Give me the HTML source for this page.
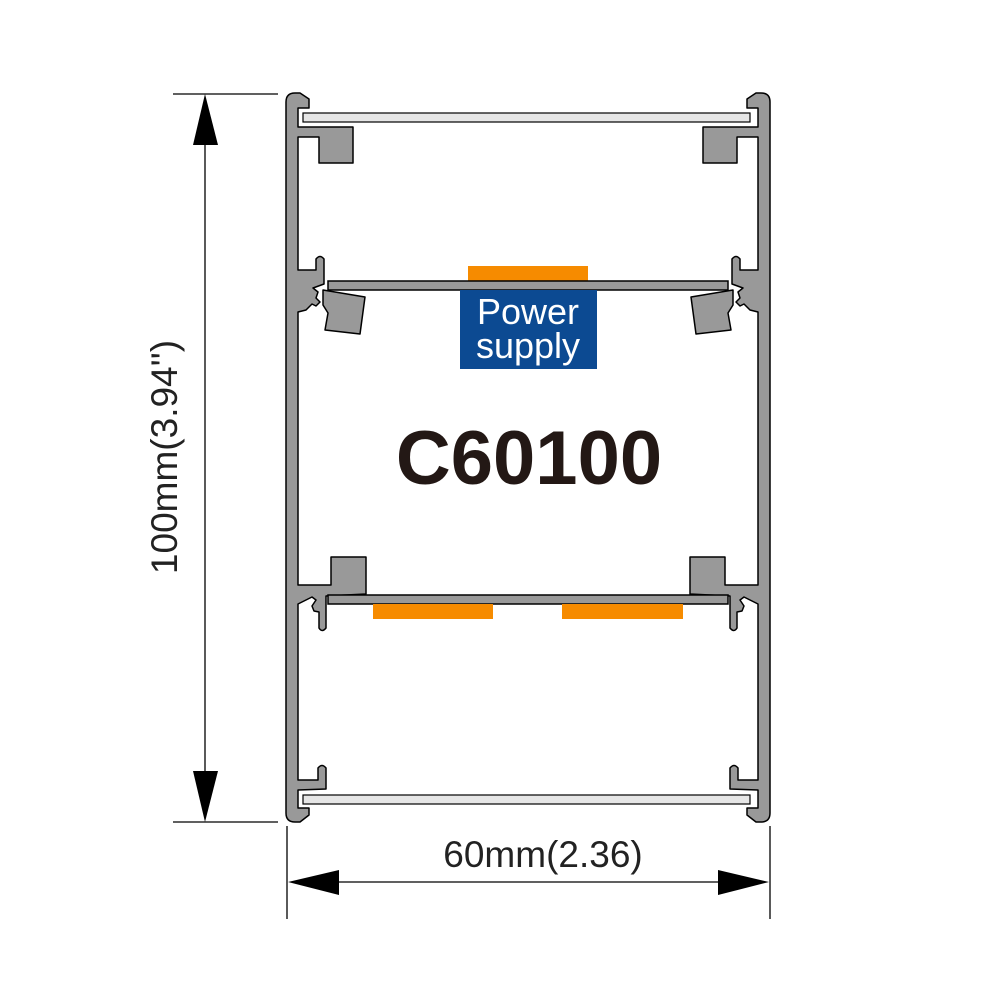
<!DOCTYPE html>
<html><head><meta charset="utf-8"><style>
html,body{margin:0;padding:0;background:#fff;width:1000px;height:1000px;overflow:hidden}
svg{display:block}
</style></head><body>
<svg width="1000" height="1000" viewBox="0 0 1000 1000" xmlns="http://www.w3.org/2000/svg">
<defs>
<g id="side" fill="#999" stroke="#000" stroke-width="1.5" stroke-linejoin="round">
  <path d="M286,102 Q286,93 295,93 L300,93 L309,99 L309,108 L298,108 L298,127 L353,127 L353,163 L319,163 L319,137 L298,137 L298,270 L316,270 L316,259 Q320,254 324,259 L324,284 L313,288 L318,292 L316,298 L320,302 L316,306 L312,304 L306,310 L298,312 L298,585 L331,585 L331,557 L366,557 L366,594 L326,596 L326,628 Q322,633 319,628 L319,612 L314,611 L312,606 L316,600 L312,597 L306,600 L298,604 L298,780 L318,780 L318,768 Q322,763 326,768 L326,789 L298,790 L298,808 L309,808 L309,815 L300,822 L295,822 Q286,822 286,813 Z"/>
  <path d="M323,290 L365,297 L360,334 L325,330 L328,313 L323,305 Z"/>
</g>
</defs>
<use href="#side"/>
<use href="#side" transform="translate(1056,0) scale(-1,1)"/>
<rect x="303" y="113" width="447" height="9" fill="#e6e6e6" stroke="#000" stroke-width="1.2"/>
<rect x="303" y="795" width="447" height="9" fill="#e6e6e6" stroke="#000" stroke-width="1.2"/>
<rect x="468" y="266" width="120" height="15" fill="#f68b00"/>
<rect x="328" y="281" width="400" height="9" fill="#999" stroke="#000" stroke-width="1.5"/>
<rect x="328" y="595" width="400" height="9" fill="#999" stroke="#000" stroke-width="1.5"/>
<rect x="373" y="604" width="120" height="15" fill="#f68b00"/>
<rect x="562" y="604" width="121" height="15" fill="#f68b00"/>
<rect x="460" y="290" width="137" height="79" fill="#0c4a92"/>
<text x="528" y="324" font-family="Liberation Sans, sans-serif" font-size="36" fill="#fff" text-anchor="middle">Power</text>
<text x="528" y="358" font-family="Liberation Sans, sans-serif" font-size="36" fill="#fff" text-anchor="middle">supply</text>
<text x="529" y="484" font-family="Liberation Sans, sans-serif" font-size="76" font-weight="bold" fill="#231815" text-anchor="middle">C60100</text>
<g stroke="#000" stroke-width="1.3">
<line x1="173" y1="94" x2="278" y2="94"/>
<line x1="173" y1="822" x2="278" y2="822"/>
<line x1="205" y1="140" x2="205" y2="775"/>
<line x1="287" y1="826" x2="287" y2="919"/>
<line x1="770" y1="826" x2="770" y2="919"/>
<line x1="335" y1="882" x2="722" y2="882"/>
</g>
<polygon points="205,94 193,145 218,145" fill="#000"/>
<polygon points="205,822 193,771 218,771" fill="#000"/>
<polygon points="288,882 339,870 339,895" fill="#000"/>
<polygon points="769,882 718,870 718,895" fill="#000"/>
<text transform="translate(177,457) rotate(-90)" font-family="Liberation Sans, sans-serif" font-size="37" fill="#222" text-anchor="middle">100mm(3.94'')</text>
<text x="543" y="867" font-family="Liberation Sans, sans-serif" font-size="37" fill="#222" text-anchor="middle">60mm(2.36)</text>
</svg>
</body></html>
